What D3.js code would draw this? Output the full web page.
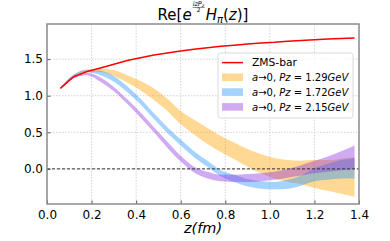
<!DOCTYPE html>
<html>
<head>
<meta charset="utf-8">
<script src="https://cdn.jsdelivr.net/npm/d3@7/dist/d3.min.js"></script>
<style>
  body { margin: 0; background: #fff; }
  text { font-family: "DejaVu Sans", sans-serif; }
</style>
</head>
<body>
<div id="chart"></div>
<script>
// data
var zValues = [0.06, 0.12, 0.18, 0.24, 0.30, 0.36, 0.42, 0.48, 0.54, 0.60, 0.66, 0.72,
               0.78, 0.84, 0.90, 0.96, 1.02, 1.08, 1.14, 1.20, 1.26, 1.32, 1.38];

var zmsBar = [1.10, 1.26, 1.33, 1.38, 1.43, 1.48, 1.52, 1.555, 1.585, 1.61, 1.635, 1.655,
              1.675, 1.69, 1.705, 1.72, 1.73, 1.745, 1.755, 1.765, 1.775, 1.782, 1.79];

var pz129Low  = [1.10, 1.255, 1.32, 1.32, 1.27, 1.18, 1.07, 0.94, 0.79, 0.61, 0.47, 0.34,
                 0.23, 0.13, 0.03, -0.06, -0.13, -0.18, -0.21, -0.26, -0.30, -0.34, -0.38];
var pz129High = [1.11, 1.285, 1.36, 1.37, 1.35, 1.28, 1.20, 1.10, 0.96, 0.79, 0.67, 0.56,
                 0.45, 0.36, 0.27, 0.20, 0.15, 0.12, 0.11, 0.12, 0.12, 0.14, 0.16];

var pz172Low  = [1.10, 1.26, 1.32, 1.28, 1.19, 1.05, 0.88, 0.68, 0.49, 0.32, 0.16, 0.03,
                 -0.10, -0.18, -0.24, -0.27, -0.28, -0.27, -0.23, -0.17, -0.15, -0.13, -0.13];
var pz172High = [1.11, 1.29, 1.35, 1.34, 1.27, 1.13, 0.96, 0.76, 0.57, 0.40, 0.24, 0.11,
                 -0.02, -0.08, -0.14, -0.17, -0.18, -0.15, -0.09, 0.01, 0.07, 0.12, 0.15];

var pz215Low  = [1.10, 1.24, 1.28, 1.19, 1.06, 0.89, 0.70, 0.50, 0.29, 0.10, -0.05, -0.13,
                 -0.17, -0.18, -0.18, -0.17, -0.15, -0.12, -0.09, -0.06, -0.04, -0.02, 0.00];
var pz215High = [1.11, 1.27, 1.31, 1.25, 1.12, 0.95, 0.77, 0.57, 0.37, 0.18, 0.03, -0.04,
                 -0.08, -0.08, -0.07, -0.06, -0.04, 0.00, 0.05, 0.11, 0.17, 0.24, 0.32];

var xTicks = [0.0, 0.2, 0.4, 0.6, 0.8, 1.0, 1.2, 1.4];
var yTicks = [0.0, 0.5, 1.0, 1.5];

var bands = [
  { name: "1.29", low: pz129Low, high: pz129High, color: "orange", alpha: 0.42 },
  { name: "1.72", low: pz172Low, high: pz172High, color: "dodgerblue", alpha: 0.4 },
  { name: "2.15", low: pz215Low, high: pz215High, color: "blueviolet", alpha: 0.4 }
];

// svg size and margins
var svgWidth = 390;
var svgHeight = 241;
var margin = { top: 24, right: 31, bottom: 37, left: 47 };
var chartWidth = svgWidth - margin.left - margin.right;
var chartHeight = svgHeight - margin.top - margin.bottom;

var svg = d3.select("#chart").append("svg")
  .attr("width", svgWidth)
  .attr("height", svgHeight);

var chartGroup = svg.append("g")
  .attr("transform", `translate(${margin.left}, ${margin.top})`);

var xScale = d3.scaleLinear().domain([0, 1.4]).range([0, chartWidth]);
var yScale = d3.scaleLinear().domain([-0.48, 1.98]).range([chartHeight, 0]);

// grid
chartGroup.append("g").selectAll("line")
  .data(xTicks)
  .enter()
  .append("line")
  .attr("x1", d => xScale(d)).attr("x2", d => xScale(d))
  .attr("y1", 0).attr("y2", chartHeight)
  .attr("stroke", "#c8c8c8").attr("stroke-width", 0.8)
  .attr("stroke-dasharray", "1.5,1.5");

chartGroup.append("g").selectAll("line")
  .data(yTicks)
  .enter()
  .append("line")
  .attr("y1", d => yScale(d)).attr("y2", d => yScale(d))
  .attr("x1", 0).attr("x2", chartWidth)
  .attr("stroke", "#c8c8c8").attr("stroke-width", 0.8)
  .attr("stroke-dasharray", "1.5,1.5");

// bands
bands.forEach(function(b) {
  var area = d3.area()
    .x((d, i) => xScale(zValues[i]))
    .y0((d, i) => yScale(b.low[i]))
    .y1((d, i) => yScale(b.high[i]))
    .curve(d3.curveMonotoneX);
  chartGroup.append("path")
    .datum(zValues)
    .attr("d", area)
    .attr("fill", b.color)
    .attr("fill-opacity", b.alpha);
});

// zero line
chartGroup.append("line")
  .attr("x1", 0).attr("x2", chartWidth)
  .attr("y1", yScale(0)).attr("y2", yScale(0))
  .attr("stroke", "#333").attr("stroke-width", 1)
  .attr("stroke-dasharray", "3,2");

// ZMS-bar line
var line = d3.line()
  .x((d, i) => xScale(zValues[i]))
  .y(d => yScale(d));
chartGroup.append("path")
  .datum(zmsBar)
  .attr("d", line)
  .attr("fill", "none")
  .attr("stroke", "red")
  .attr("stroke-width", 1.5);

// axes, ticks pointing in
var xAxis = d3.axisBottom(xScale).tickValues(xTicks).tickFormat(d3.format(".1f"))
  .tickSize(-3.5).tickPadding(6);
var yAxis = d3.axisLeft(yScale).tickValues(yTicks).tickFormat(d3.format(".1f"))
  .tickSize(-3.5).tickPadding(4);

var gx = chartGroup.append("g")
  .attr("transform", `translate(0, ${chartHeight})`)
  .call(xAxis);
var gy = chartGroup.append("g").call(yAxis);

[gx, gy].forEach(function(g) {
  g.select(".domain").remove();
  g.selectAll(".tick line").attr("stroke", "#333").attr("stroke-width", 0.8);
  g.selectAll(".tick text")
    .attr("fill", "#000")
    .style("font-size", "12px")
    .style("font-family", "DejaVu Sans");
});

// frame
chartGroup.append("rect")
  .attr("x", 0).attr("y", 0)
  .attr("width", chartWidth).attr("height", chartHeight)
  .attr("fill", "none")
  .attr("stroke", "#8c8c8c")
  .attr("stroke-width", 1.5);

// x label
chartGroup.append("text")
  .attr("x", chartWidth / 2)
  .attr("y", chartHeight + 29)
  .attr("text-anchor", "middle")
  .style("font-size", "14.5px")
  .style("font-style", "italic")
  .text("z(fm)");

// title: Re[e^{izPz/2} H_pi(z)]
var title = svg.append("g");
var fs = 15;
var cursor = 0;
function addText(str, opts) {
  opts = opts || {};
  var t = title.append("text")
    .attr("x", cursor)
    .attr("y", opts.y != null ? opts.y : 0)
    .style("font-size", (opts.size || fs) + "px")
    .style("font-style", opts.italic ? "italic" : "normal")
    .text(str);
  cursor += t.node().getComputedTextLength();
}
addText("Re[");
addText("e", { italic: true });
// superscript fraction
var fracStart = cursor + 1;
var sup = title.append("g");
var num = sup.append("text")
  .attr("x", 0).attr("y", -14.5)
  .style("font-size", "6.5px").style("font-style", "italic");
num.append("tspan").text("izP");
num.append("tspan").style("font-size", "4.5px").attr("dy", 1.3).text("z");
var numW = num.node().getComputedTextLength();
sup.append("line")
  .attr("x1", 0).attr("x2", numW + 0.5)
  .attr("y1", -12.6).attr("y2", -12.6)
  .attr("stroke", "#000").attr("stroke-width", 0.5);
sup.append("text")
  .attr("x", (numW + 0.5) / 2).attr("y", -7.8)
  .attr("text-anchor", "middle")
  .style("font-size", "6px")
  .text("2");
sup.attr("transform", `translate(${fracStart}, 0)`);
cursor = fracStart + numW + 1.5;
addText("H", { italic: true });
addText("π", { italic: true, size: 10, y: 3 });
addText("(");
addText("z", { italic: true });
addText(")]");
var titleW = cursor;
title.attr("transform", `translate(${margin.left + chartWidth / 2 - titleW / 2}, 20)`);

// legend
var legend = svg.append("g").attr("transform", "translate(218, 53)");
legend.append("rect")
  .attr("width", 135).attr("height", 65)
  .attr("rx", 2.5)
  .attr("fill", "#fff").attr("fill-opacity", 0.8)
  .attr("stroke", "#d0d0d0").attr("stroke-width", 0.8);

var rowY = [9.6, 24.3, 39.1, 53.9];
legend.append("line")
  .attr("x1", 4).attr("x2", 25)
  .attr("y1", rowY[0]).attr("y2", rowY[0])
  .attr("stroke", "red").attr("stroke-width", 1.5);
legend.append("text")
  .attr("x", 34).attr("y", rowY[0] + 3.8)
  .style("font-size", "10.7px")
  .text("ZMS-bar");

bands.forEach(function(b, i) {
  var y = rowY[i + 1];
  legend.append("rect")
    .attr("x", 4).attr("y", y - 3.8)
    .attr("width", 21).attr("height", 7.6)
    .attr("fill", b.color).attr("fill-opacity", b.alpha);
  var t = legend.append("text")
    .attr("x", 34).attr("y", y + 3.8)
    .style("font-size", "10px");
  t.append("tspan").style("font-style", "italic").text("a");
  t.append("tspan").text("\u21920, ");
  t.append("tspan").style("font-style", "italic").text("Pz");
  t.append("tspan").text(" = " + b.name);
  t.append("tspan").style("font-style", "italic").text("GeV");
});
</script>
</body>
</html>
